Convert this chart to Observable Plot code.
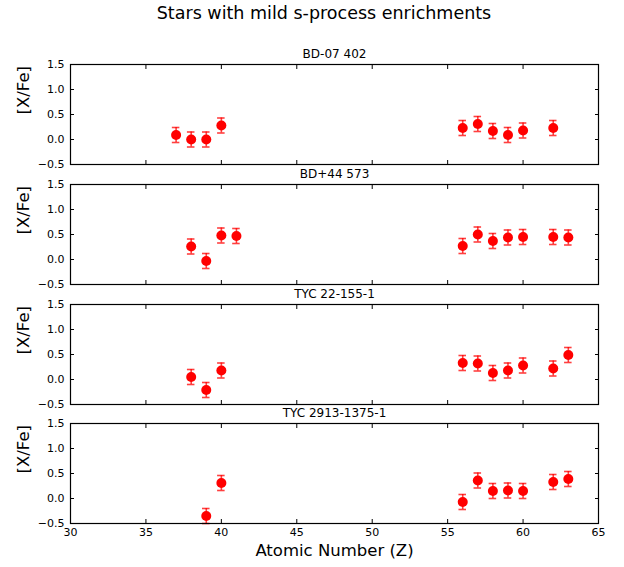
<!DOCTYPE html>
<html><head><meta charset="utf-8">
<script src="https://cdn.jsdelivr.net/npm/d3@7"></script>
<script src="https://cdn.jsdelivr.net/npm/@observablehq/plot@0.6"></script>
<style>
body{margin:0;background:#fff;}
#chart{position:relative;width:624px;height:567px;font-family:"DejaVu Sans",sans-serif;overflow:hidden;}
#title{position:absolute;left:0;top:3px;width:648px;text-align:center;font-size:17.5px;line-height:20px;color:#000;}
.panel{position:absolute;left:0;}
</style></head><body>
<div id="chart"><div id="title">Stars with mild s-process enrichments</div></div>
<script>
// ---- data ----
const starNames = ["BD-07 402", "BD+44 573", "TYC 22-155-1", "TYC 2913-1375-1"];

const zBD07402 = [37, 38, 39, 40, 56, 57, 58, 59, 60, 62];
const xfeBD07402 = [0.09, 0.00, 0.00, 0.28, 0.23, 0.31, 0.17, 0.09, 0.18, 0.23];
const errBD07402 = [0.15, 0.15, 0.15, 0.15, 0.15, 0.15, 0.15, 0.15, 0.15, 0.15];

const zBD44573 = [38, 39, 40, 41, 56, 57, 58, 59, 60, 62, 63];
const xfeBD44573 = [0.26, -0.03, 0.48, 0.47, 0.27, 0.50, 0.37, 0.44, 0.45, 0.45, 0.44];
const errBD44573 = [0.15, 0.15, 0.15, 0.15, 0.15, 0.15, 0.15, 0.15, 0.15, 0.15, 0.15];

const zTYC221551 = [38, 39, 40, 56, 57, 58, 59, 60, 62, 63];
const xfeTYC221551 = [0.05, -0.21, 0.18, 0.33, 0.32, 0.13, 0.18, 0.28, 0.22, 0.49];
const errTYC221551 = [0.15, 0.15, 0.15, 0.15, 0.15, 0.15, 0.15, 0.15, 0.15, 0.15];

const zTYC291313751 = [39, 40, 56, 57, 58, 59, 60, 62, 63];
const xfeTYC291313751 = [-0.35, 0.31, -0.07, 0.36, 0.15, 0.16, 0.15, 0.33, 0.39];
const errTYC291313751 = [0.15, 0.15, 0.15, 0.15, 0.15, 0.15, 0.15, 0.15, 0.15];

const xTicks = [30, 35, 40, 45, 50, 55, 60, 65];
const yTicks = [-0.5, 0.0, 0.5, 1.0, 1.5];
const xDomain = [30, 65];
const yDomain = [-0.5, 1.5];
const xLabel = "Atomic Number (Z)";
const yLabel = "[X/Fe]";

const series = [
  [zBD07402, xfeBD07402, errBD07402],
  [zBD44573, xfeBD44573, errBD44573],
  [zTYC221551, xfeTYC221551, errTYC221551],
  [zTYC291313751, xfeTYC291313751, errTYC291313751]
];

// ---- drawing ----
const chart = document.getElementById("chart");
const panelTops = [44, 164, 284, 403];
const capHalf = 0.25;
const none = () => "";

series.forEach(([zs, vs, es], i) => {
  const last = i === series.length - 1;
  const rows = zs.map((z, j) => ({z, v: vs[j], e: es[j]}));
  const marks = [
    Plot.ruleX(rows, {x: "z", y1: d => d.v - d.e, y2: d => d.v + d.e, stroke: "#ff0000", strokeOpacity: 0.75, strokeWidth: 1.6}),
    Plot.ruleY(rows, {y: d => d.v - d.e, x1: d => d.z - capHalf, x2: d => d.z + capHalf, stroke: "#ff0000", strokeOpacity: 0.75, strokeWidth: 1.6}),
    Plot.ruleY(rows, {y: d => d.v + d.e, x1: d => d.z - capHalf, x2: d => d.z + capHalf, stroke: "#ff0000", strokeOpacity: 0.75, strokeWidth: 1.6}),
    Plot.dot(rows, {x: "z", y: "v", r: 5, fill: "#ff0000", stroke: "none"}),
    Plot.frame({stroke: "#000", strokeWidth: 1.2}),
    Plot.axisY(yTicks, {anchor: "left", tickSize: -4, tickPadding: 10, tickFormat: d3.format(".1f"), label: null, fill: "#000", stroke: "#000", fontSize: 11}),
    Plot.axisY(yTicks, {anchor: "right", tickSize: -4, tickFormat: none, label: null, stroke: "#000"}),
    Plot.axisX(xTicks, {anchor: "top", tickSize: -4, tickFormat: none, label: null, stroke: "#000"}),
    Plot.axisX(xTicks, {anchor: "bottom", tickSize: -4, tickPadding: 9, tickFormat: last ? d3.format("d") : none, label: null, fill: "#000", stroke: "#000", fontSize: 11}),
    Plot.text([starNames[i]], {frameAnchor: "top", lineAnchor: "middle", dy: -10.5, text: d => d, fontSize: 12, fill: "#000"}),
    Plot.text([yLabel], {frameAnchor: "left", lineAnchor: "middle", rotate: -90, dx: -47, text: d => d, fontSize: 16.5, fill: "#000"})
  ];
  if (last) marks.push(Plot.text([xLabel], {frameAnchor: "bottom", lineAnchor: "middle", dy: 27, text: d => d, fontSize: 16.5, fill: "#000"}));
  const svg = Plot.plot({
    width: 624,
    height: last ? 164 : 122,
    marginLeft: 70, marginRight: 26, marginTop: 20, marginBottom: last ? 44 : 2,
    x: {domain: xDomain},
    y: {domain: yDomain},
    style: {fontFamily: "DejaVu Sans, sans-serif", fontSize: "12px", overflow: "visible", background: "transparent", color: "#000"},
    marks
  });
  svg.classList.add("panel");
  svg.style.top = panelTops[i] + "px";
  chart.appendChild(svg);
});
</script>
</body></html>
